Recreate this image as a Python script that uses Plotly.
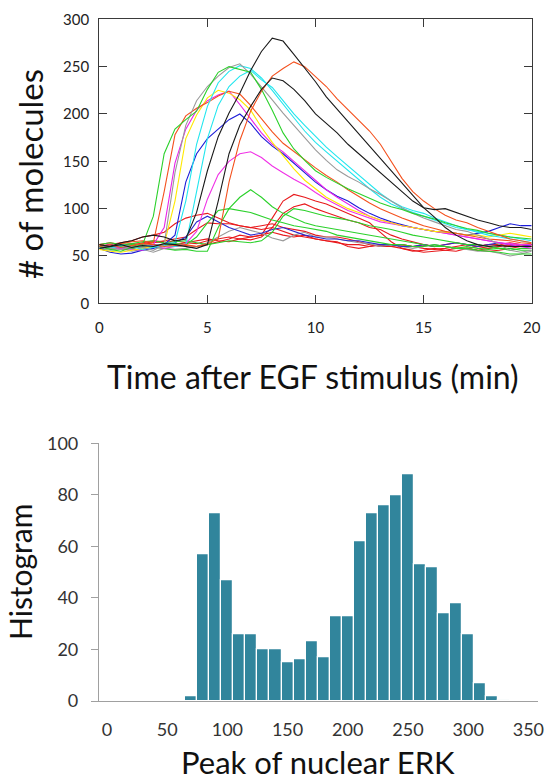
import plotly.graph_objects as go

# ---------------- data: top panel (time courses) ----------------
time_min = [0, 0.5, 1, 1.5, 2, 2.5, 3, 3.5, 4, 4.5, 5, 5.5, 6, 6.5, 7, 7.5, 8, 8.5, 9, 9.5,
            10, 10.5, 11, 11.5, 12, 12.5, 13, 13.5, 14, 14.5, 15, 15.5, 16, 16.5, 17, 17.5,
            18, 18.5, 19, 19.5, 20]

red_low = [58,60,62,60,58,60,62,60,61,60,62,65,68,72,70,72,75,72,70,72,68,66,65,60,58,60,62,60,62,60,58,57,58,60,62,60,58,60,61,62,62]
red_mid = [60,58,61,63,62,64,66,68,70,78,85,84,84,82,80,82,84,80,78,76,72,70,70,68,65,62,60,60,58,56,54,55,56,58,58,56,55,56,58,60,60]
red_early = [60,62,64,66,70,72,75,84,90,93,95,90,85,82,80,78,80,76,72,70,68,66,64,62,62,60,62,60,62,60,62,60,62,64,62,60,62,62,60,62,62]
red_late = [62,60,63,61,64,66,65,62,64,63,66,68,70,68,70,72,90,108,115,112,108,105,100,95,90,85,75,65,58,55,56,58,56,55,58,60,62,62,64,62,60]
red_late2 = [62,64,62,60,63,65,64,66,64,66,68,66,65,68,67,70,80,95,102,105,100,96,92,88,85,80,78,72,68,65,62,60,60,58,58,56,58,60,60,62,62]
gray_low = [58,56,58,55,57,54,58,57,58,60,64,70,76,80,77,74,69,66,72,75,70,70,68,66,64,63,60,62,60,58,60,62,60,58,57,55,55,53,50,52,55]
blue_low = [60,62,59,58,60,62,61,64,70,86,92,86,80,76,72,74,78,80,76,72,70,68,68,66,66,64,62,62,60,60,62,60,62,64,62,60,62,64,62,60,62]
green_late = [62,64,62,63,65,66,64,65,66,64,62,64,66,65,64,66,75,92,100,98,95,92,90,88,85,82,80,78,75,72,70,68,66,64,62,62,60,58,58,56,56]
green_mid = [60,58,60,62,61,60,62,63,62,70,85,98,100,98,96,92,88,85,82,80,78,76,72,70,68,66,64,62,62,60,60,62,60,58,60,58,57,58,56,58,58]
green_120 = [58,60,57,58,60,59,58,56,57,55,55,80,100,112,120,112,102,95,90,85,82,80,78,76,74,72,70,68,66,64,62,60,60,58,58,56,55,54,52,52,52]
magenta_160 = [58,60,57,59,61,60,58,60,63,76,110,136,150,158,160,154,145,138,131,125,117,110,104,98,94,90,86,84,82,80,78,76,74,72,70,68,66,64,63,62,62]
blue_200 = [58,54,52,53,56,58,62,72,128,158,174,184,194,200,190,176,166,158,148,138,128,120,113,108,101,95,90,86,83,80,78,76,75,74,72,74,76,80,84,82,82]
magenta_225 = [60,62,58,57,56,62,80,148,184,204,214,220,224,210,195,180,168,160,150,140,130,120,112,105,98,92,88,85,82,80,78,76,74,72,70,68,66,64,62,60,58]
yellow_225 = [57,55,54,56,58,60,62,108,174,199,217,225,222,215,204,186,170,156,142,130,121,112,106,100,96,92,88,85,82,80,78,76,75,74,72,72,70,72,74,72,70]
orange_early = [62,60,63,65,66,64,118,178,198,206,212,219,224,221,209,195,181,169,160,151,143,135,128,120,113,106,100,95,90,86,82,79,76,74,72,70,68,67,66,64,63]
cyan_2 = [58,60,62,60,57,59,61,60,62,118,174,209,229,240,246,236,228,214,200,188,176,165,155,145,135,125,116,108,102,98,95,90,86,82,78,75,72,70,68,66,64]
cyan_1 = [60,58,61,59,62,60,63,64,108,168,208,233,245,251,248,238,225,210,196,182,170,160,150,140,130,121,112,105,100,96,92,88,84,80,78,76,74,72,70,68,66]
gray_250 = [60,58,57,60,59,56,62,138,188,214,229,240,249,253,242,229,215,201,188,175,162,151,141,134,128,121,115,108,101,95,90,86,82,78,76,72,68,62,56,54,56]
green_early = [60,57,55,59,62,92,158,184,194,203,226,244,250,247,244,226,204,180,163,151,140,133,127,121,116,111,106,102,99,95,92,89,85,82,79,77,74,72,70,69,68]
orange_late = [60,62,59,61,63,62,60,61,62,60,63,68,128,172,203,224,240,248,255,250,240,229,216,205,194,182,168,150,132,118,108,100,93,88,85,80,76,72,68,66,64]
black_240 = [58,60,62,59,61,60,63,62,60,58,62,108,158,188,208,226,238,235,226,214,200,190,180,168,158,148,138,128,118,108,101,99,100,96,92,88,85,82,80,80,78]
black_280 = [62,60,64,66,70,72,70,66,68,96,140,176,201,222,246,266,280,277,263,249,234,218,205,192,180,167,154,140,127,114,101,91,80,72,66,62,60,61,60,60,60]

series = [
    (red_low, "#E8191C"), (red_mid, "#E8191C"), (red_early, "#E8191C"),
    (red_late, "#E8191C"), (red_late2, "#E8191C"), (gray_low, "#9A9A9A"),
    (blue_low, "#2A2AD0"), (green_late, "#2BD12B"), (green_mid, "#2BD12B"),
    (green_120, "#2BD12B"), (magenta_160, "#F032E6"), (blue_200, "#1C1CD8"),
    (magenta_225, "#E824E8"), (yellow_225, "#FFE900"), (orange_early, "#F4511E"),
    (cyan_2, "#22E6EE"), (cyan_1, "#22E6EE"), (gray_250, "#9A9A9A"),
    (green_early, "#2BD12B"), (orange_late, "#F4511E"), (black_240, "#1A1A1A"),
    (black_280, "#1A1A1A"),
]

# ---------------- data: bottom panel (histogram) ----------------
bin_centers = [70, 80, 90, 100, 110, 120, 130, 140, 150, 160, 170, 180, 190, 200,
               210, 220, 230, 240, 250, 260, 270, 280, 290, 300, 310, 320, 330]
counts = [2, 57, 73, 47, 26, 26, 20, 20, 15, 16, 23, 17, 33, 33,
          62, 73, 76, 80, 88, 53, 52, 34, 38, 26, 7, 2, 0.4]

top_x_ticks = [0, 5, 10, 15, 20]
top_y_ticks = [0, 50, 100, 150, 200, 250, 300]
bot_x_ticks = [0, 50, 100, 150, 200, 250, 300, 350]
bot_y_ticks = [0, 20, 40, 60, 80, 100]

W, H = 550, 783
FONT = "Lato"

fig = go.Figure()
for vals, col in series:
    fig.add_trace(go.Scatter(x=time_min, y=vals, mode="lines",
                             line=dict(color=col, width=1.1),
                             xaxis="x", yaxis="y", showlegend=False))

fig.add_trace(go.Bar(x=bin_centers, y=counts, width=10,
                     marker=dict(color="#31859C", line=dict(color="white", width=1.2)),
                     xaxis="x2", yaxis="y2", showlegend=False))

def px_x(p):
    return p / W

def px_y(p):
    return 1 - p / H

fig.update_layout(
    width=W, height=H, autosize=False,
    margin=dict(l=0, r=0, t=0, b=0, pad=0, autoexpand=False),
    paper_bgcolor="white", plot_bgcolor="white",
    font=dict(family=FONT, color="#222222"),
    bargap=0, showlegend=False,
    xaxis=dict(domain=[px_x(99.3), px_x(531.7)], anchor="y", range=[0, 20],
               tickvals=top_x_ticks, ticktext=[str(v) for v in top_x_ticks],
               showline=True, linecolor="#3A3A3A", linewidth=1.3, mirror="ticks",
               ticks="inside", ticklen=8, tickcolor="#3A3A3A", tickwidth=1.3,
               showgrid=False, zeroline=False, automargin=False,
               tickfont=dict(size=15, color="#222222"), ticklabelstandoff=11),
    yaxis=dict(domain=[px_y(303.3), px_y(19.3)], anchor="x", range=[0, 300],
               tickvals=top_y_ticks, ticktext=[str(v) for v in top_y_ticks],
               showline=True, linecolor="#3A3A3A", linewidth=1.3, mirror="ticks",
               ticks="inside", ticklen=8, tickcolor="#3A3A3A", tickwidth=1.3,
               showgrid=False, zeroline=False, automargin=False,
               tickfont=dict(size=15, color="#222222"), ticklabelstandoff=6),
    xaxis2=dict(domain=[px_x(99), px_x(538)], anchor="y2", range=[-6.6, 358],
                tickvals=bot_x_ticks, ticktext=[str(v) for v in bot_x_ticks],
                showline=True, linecolor="#A0A0A0", linewidth=1.2,
                ticks="", showgrid=False, zeroline=False, automargin=False,
                tickfont=dict(size=18, color="#333333"), ticklabelstandoff=12),
    yaxis2=dict(domain=[px_y(701), px_y(443.3)], anchor="x2", range=[0, 100],
                tickvals=bot_y_ticks, ticktext=[str(v) for v in bot_y_ticks],
                showline=True, linecolor="#A0A0A0", linewidth=1.2,
                ticks="outside", ticklen=7, tickcolor="#A0A0A0", tickwidth=1.2,
                showgrid=False, zeroline=False, automargin=False,
                tickfont=dict(size=18, color="#333333"), ticklabelstandoff=9),
    annotations=[
        dict(text="# of molecules", x=px_x(30), y=px_y(174), xref="paper", yref="paper",
             textangle=-90, showarrow=False, xanchor="center", yanchor="middle",
             font=dict(size=33, family=FONT, color="#111111")),
        dict(text="Time after EGF stimulus (min)", x=px_x(313), y=px_y(377),
             xref="paper", yref="paper", showarrow=False, xanchor="center", yanchor="middle",
             font=dict(size=32, family=FONT, color="#111111")),
        dict(text="Histogram", x=px_x(20), y=px_y(572), xref="paper", yref="paper",
             textangle=-90, showarrow=False, xanchor="center", yanchor="middle",
             font=dict(size=30, family=FONT, color="#111111")),
        dict(text="Peak of nuclear ERK", x=px_x(318), y=px_y(762), xref="paper", yref="paper",
             showarrow=False, xanchor="center", yanchor="middle",
             font=dict(size=31, family=FONT, color="#111111")),
    ],
)

fig.write_html("out.html",
               config={"displayModeBar": False},
               post_script="document.body.style.margin='0px';document.body.style.overflow='hidden';")
